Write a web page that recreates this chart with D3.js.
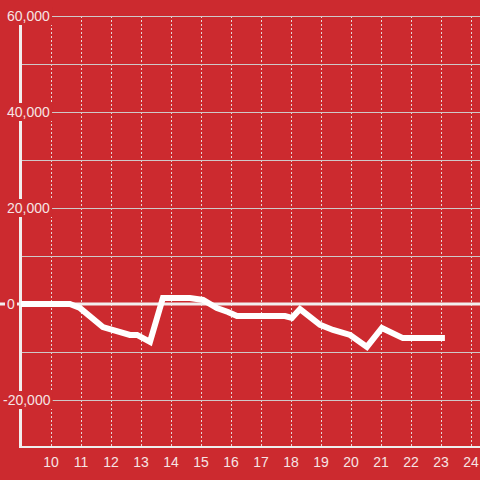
<!DOCTYPE html>
<html>
<head>
<meta charset="utf-8">
<script src="https://cdn.jsdelivr.net/npm/d3@7"></script>
<style>
  html, body { margin: 0; padding: 0; background: #cc2a2f; }
  svg { display: block; font-family: "Liberation Sans", Arial, sans-serif; }
</style>
</head>
<body>
<div id="chart"></div>
<script>
// line readings (x = hour of day, y = value)
const xValues = [9, 10.63, 10.97, 11.73, 12.63, 12.87, 13.3, 13.73, 14.63, 15.07, 15.53, 15.9, 16.2,
                 17.8, 18.03, 18.3, 18.97, 19.4, 19.97, 20.53, 21.03, 21.73, 23.13];
const yValues = [0, 0, -850, -4800, -6450, -6450, -7900, 1250, 1250, 850, -850, -1650, -2500,
                 -2500, -2900, -1050, -4350, -5400, -6450, -8950, -5000, -7100, -7100];
const xTicks = [10, 11, 12, 13, 14, 15, 16, 17, 18, 19, 20, 21, 22, 23, 24];
const yGrid = [-20000, -10000, 0, 10000, 20000, 30000, 40000, 50000, 60000];
const yLabels = [-20000, 0, 20000, 40000, 60000];

const bg = "#cc2a2f";
const W = 480, H = 480;
const svg = d3.select("#chart").append("svg").attr("width", W).attr("height", H);
svg.append("rect").attr("width", W).attr("height", H).attr("fill", bg);

const x = d3.scaleLinear().domain([9, 24.3]).range([21, 480]);
const y = d3.scaleLinear().domain([-30000, 60000]).range([448, 16]);

// vertical dashed grid
svg.append("g").selectAll("line").data(xTicks).join("line")
    .attr("x1", d => x(d) + 0.5).attr("x2", d => x(d) + 0.5)
    .attr("y1", 16).attr("y2", 448)
    .attr("stroke", "#e6d6d6").attr("stroke-width", 1)
    .attr("stroke-dasharray", "2,2");

// horizontal grid
svg.append("g").selectAll("line").data(yGrid.filter(d => d !== 0)).join("line")
    .attr("x1", 21).attr("x2", W)
    .attr("y1", d => y(d) + 0.5).attr("y2", d => y(d) + 0.5)
    .attr("stroke", "#cfc8c8").attr("stroke-width", 1);

// bottom line
svg.append("line")
    .attr("x1", 19).attr("x2", W).attr("y1", 447).attr("y2", 447)
    .attr("stroke", "#eee").attr("stroke-width", 2);

// zero line
svg.append("line")
    .attr("x1", 0).attr("x2", W).attr("y1", y(0)).attr("y2", y(0))
    .attr("stroke", "#f2eeee").attr("stroke-width", 3);

// y axis line
svg.append("line")
    .attr("x1", 20.5).attr("x2", 20.5).attr("y1", 16).attr("y2", 448)
    .attr("stroke", "#f2eeee").attr("stroke-width", 3);

// y labels with background boxes
const fmt = d3.format(",");
const yl = svg.append("g").selectAll("g").data(yLabels).join("g")
    .attr("transform", d => `translate(7,${y(d)})`);
yl.append("text")
    .attr("text-anchor", "start")
    .attr("dy", "0.35em")
    .attr("fill", "#f6e4e4")
    .attr("font-size", 14)
    .text(d => d < 0 ? "-" + fmt(-d) : fmt(d))
    .attr("dx", d => d < 0 ? -4 : 0);
yl.each(function() {
    const t = d3.select(this).select("text");
    const b = t.node().getBBox();
    d3.select(this).insert("rect", "text")
        .attr("x", b.x - 2).attr("y", -9)
        .attr("width", b.width + 4).attr("height", 18)
        .attr("fill", bg);
});

// x labels
svg.append("g").selectAll("text").data(xTicks).join("text")
    .attr("x", d => x(d))
    .attr("y", 467)
    .attr("text-anchor", "middle")
    .attr("fill", "#f6e4e4")
    .attr("font-size", 14)
    .text(d => d);

// data line
const pts = xValues.map((v, i) => [v, yValues[i]]);
svg.append("path")
    .datum(pts)
    .attr("fill", "none")
    .attr("stroke", "#ffffff")
    .attr("stroke-width", 6)
    .attr("d", d3.line().x(d => x(d[0])).y(d => y(d[1])));
</script>
</body>
</html>
